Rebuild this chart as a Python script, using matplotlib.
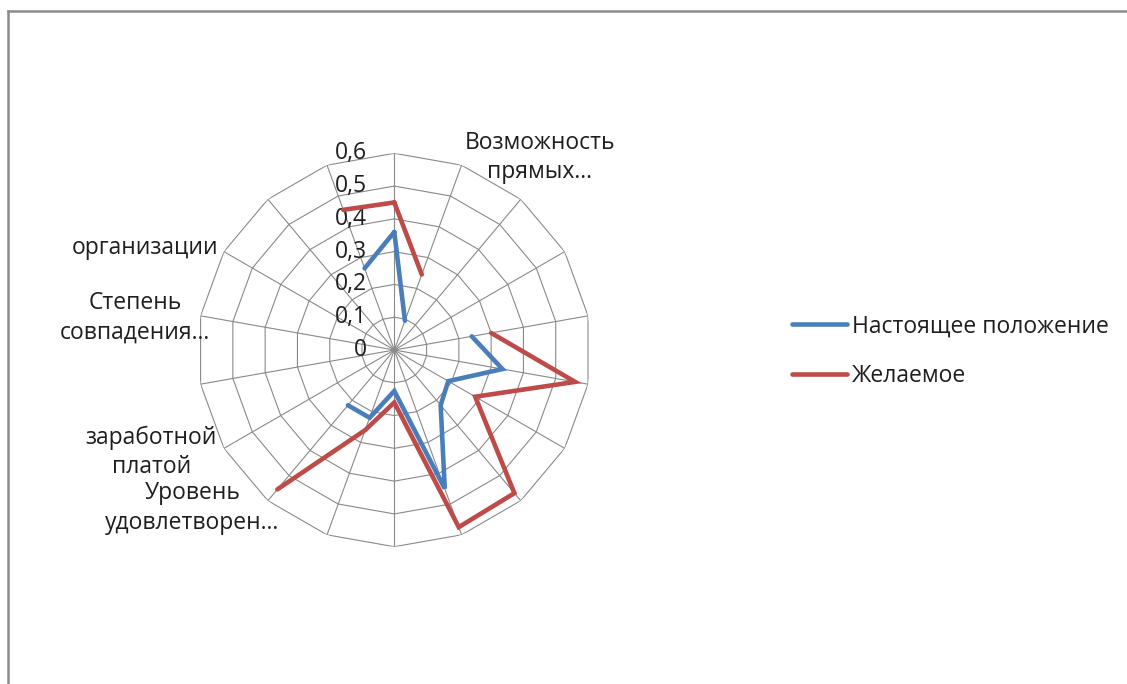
import numpy as np
import matplotlib
matplotlib.use("Agg")
import matplotlib.pyplot as plt
from matplotlib.lines import Line2D

plt.rcParams['font.family'] = ['Open Sans', 'DejaVu Sans']

# 18 axes of the radar; only labels that fit are shown, the rest stay blank
categories = ['', 'Возможность\nпрямых...', '', '', '', '', '', '', '', '',
              '', 'Уровень\nудовлетворен...', 'заработной\nплатой', '',
              'Степень\nсовпадения...', 'организации', '', '']
current = [0.36, 0.095, np.nan, np.nan, 0.24, 0.335, 0.19, 0.22, 0.45,
           0.125, 0.22, 0.22, np.nan, np.nan, np.nan, np.nan, np.nan, 0.265]
desired = [0.45, 0.245, np.nan, np.nan, 0.30, 0.56, 0.285, 0.57, 0.575,
           0.16, 0.26, 0.555, np.nan, np.nan, np.nan, np.nan, np.nan, 0.455]
series_names = ['Настоящее положение', 'Желаемое']
rings = [0.1, 0.2, 0.3, 0.4, 0.5, 0.6]
ring_labels = ['0', '0,1', '0,2', '0,3', '0,4', '0,5', '0,6']

# where each visible axis label sits: (r, theta offset in deg, ha)
label_pos = {1: (0.625, 0, 'left'), 11: (0.595, -4, 'right'),
             12: (0.624, 0, 'right'), 14: (0.571, 0, 'right'),
             15: (0.621, 0, 'right')}

n = len(categories)
theta = np.deg2rad(np.arange(n) * 360.0 / n)
theta_c = np.append(theta, theta[0])

W, H = 1127, 684
fig = plt.figure(figsize=(W / 100, H / 100), dpi=100)
cx, cy, R = 394.3, 350.0, 196.7
ax = fig.add_axes([(cx - R) / W, (H - cy - R) / H, 2 * R / W, 2 * R / H],
                  projection='polar')
ax.set_theta_zero_location('N')
ax.set_theta_direction(-1)
ax.set_ylim(0, 0.6)
ax.grid(False)
ax.set_xticks([])
ax.set_yticks([])
ax.spines['polar'].set_visible(False)

grid_c = '#8a8a8a'
for r in rings:
    ax.plot(theta_c, np.full(n + 1, r), color=grid_c, lw=0.8, zorder=1)
for t in theta:
    ax.plot([t, t], [0, 0.6], color=grid_c, lw=0.8, zorder=1)

fs = 16.5
txt_c = '#1e1e1e'
for r, lab in zip([0] + rings, ring_labels):
    ax.annotate(lab, (0, r), xytext=(-19.5, 0), textcoords='offset points',
                ha='right', va='center', fontsize=fs, color=txt_c, zorder=2)

for k, (r, dt, ha) in label_pos.items():
    ax.text(theta[k] + np.deg2rad(dt), r, categories[k], ha=ha, va='center',
            multialignment='center', fontsize=fs, color=txt_c,
            linespacing=1.3)

colors = ['#4a7ebb', '#be4b48']
for vals, c, name in zip([current, desired], colors, series_names):
    v = np.append(vals, vals[0])
    ax.plot(theta_c, v, color=c, lw=3.3, solid_capstyle='round',
            solid_joinstyle='miter', label=name, zorder=3)

fig.legend(loc='center left', bbox_to_anchor=(792 / W, 1 - 351 / H),
           frameon=False, fontsize=fs, handlelength=2.4, handletextpad=0.2,
           labelspacing=1.1, borderpad=0, borderaxespad=0,
           labelcolor=txt_c)

# chart area border (left and top edges only)
bc = '#8c8c8c'
fig.add_artist(Line2D([8 / W, 8 / W], [0, 1 - 11 / H], color=bc, lw=1.8,
                      transform=fig.transFigure))
fig.add_artist(Line2D([8 / W, 1], [1 - 11 / H, 1 - 11 / H], color=bc, lw=1.8,
                      transform=fig.transFigure))

fig.savefig('out.png', dpi=100, facecolor='white')
